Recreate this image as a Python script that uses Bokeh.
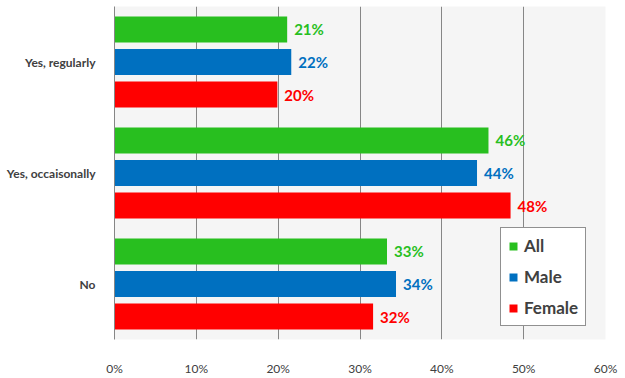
from bokeh.plotting import figure
from bokeh.models import FactorRange, Range1d, ColumnDataSource, FixedTicker, NumeralTickFormatter, Legend, LegendItem
from bokeh.transform import dodge
from bokeh.core.properties import value
from bokeh.embed import file_html
from bokeh.resources import INLINE

categories = ["Yes, regularly", "Yes, occaisonally", "No"]
series = ["All", "Male", "Female"]
all_vals = [0.211, 0.457, 0.333]
male_vals = [0.216, 0.443, 0.344]
female_vals = [0.199, 0.484, 0.316]
colors = ["#28BF1F", "#0070C0", "#FF0000"]
ticks = [0.0, 0.1, 0.2, 0.3, 0.4, 0.5, 0.6]

FONT = "Lato"
TXT = "#404040"

p = figure(width=625, height=378, output_backend="svg", toolbar_location=None,
           y_range=FactorRange(factors=list(reversed(categories)), range_padding=0),
           x_range=Range1d(0, 0.6),
           min_border_left=114, min_border_right=20, min_border_top=6, min_border_bottom=34)
p.background_fill_color = "#F5F5F5"
p.border_fill_color = "white"
p.outline_line_color = None

offsets = [0.293, 0.0, -0.293]
data_sets = [all_vals, male_vals, female_vals]
items = []
for name, vals, col, off in zip(series, data_sets, colors, offsets):
    src = ColumnDataSource(dict(cat=categories, v=vals,
                                lab=[f"{round(v*100)}%" for v in vals]))
    r = p.hbar(y=dodge("cat", off, range=p.y_range), right="v", left=0, height=0.236,
               fill_color=col, line_color=None, source=src)
    p.text(x="v", y=dodge("cat", off, range=p.y_range), text="lab", source=src,
           x_offset=7, text_baseline="middle", text_align="left",
           text_font=value(FONT), text_font_style="bold", text_font_size="15px",
           text_color=col)
    items.append(LegendItem(label=name, renderers=[r]))

legend = Legend(items=items, location=(386, 13), orientation="vertical",
                glyph_width=10, glyph_height=10, label_height=20,
                spacing=10, padding=7, margin=0, label_standoff=6,
                label_text_font=FONT, label_text_font_style="bold",
                label_text_font_size="17px", label_text_color=TXT,
                border_line_color="#222222", border_line_width=1,
                background_fill_color="white", background_fill_alpha=1.0)
p.add_layout(legend, "center")

p.xaxis.ticker = FixedTicker(ticks=ticks)
p.xaxis.formatter = NumeralTickFormatter(format="0%")
p.xaxis.axis_line_color = None
p.xaxis.major_tick_line_color = None
p.xaxis.minor_tick_line_color = None
p.xaxis.major_label_standoff = 15
p.xaxis.major_label_text_font = FONT
p.xaxis.major_label_text_font_size = "12px"
p.xaxis.major_label_text_color = TXT

p.yaxis.axis_line_color = "#868686"
p.yaxis.major_tick_line_color = None
p.yaxis.minor_tick_line_color = None
p.yaxis.major_label_standoff = 13
p.yaxis.major_label_text_font = FONT
p.yaxis.major_label_text_font_style = "bold"
p.yaxis.major_label_text_font_size = "12px"
p.yaxis.major_label_text_color = TXT

p.xgrid.ticker = FixedTicker(ticks=ticks)
p.xgrid.grid_line_color = "#868686"
p.xgrid.grid_line_width = 1
p.ygrid.grid_line_color = None

open("out.html", "w").write(file_html(p, INLINE))
